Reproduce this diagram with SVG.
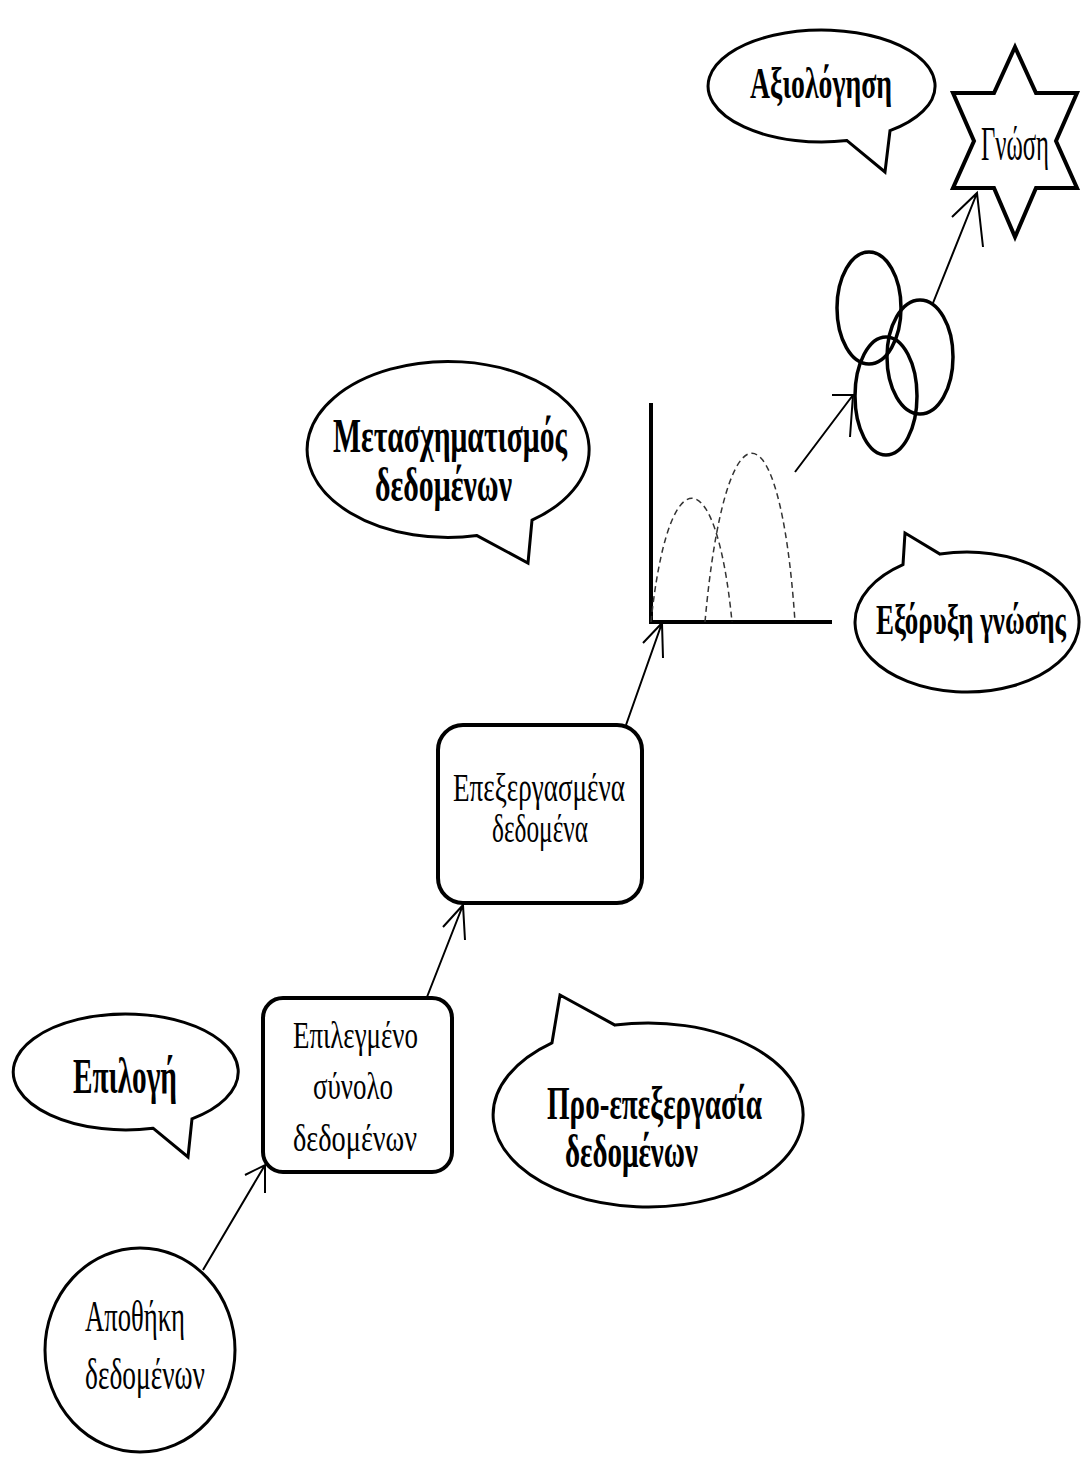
<svg xmlns="http://www.w3.org/2000/svg" width="1083" height="1461" viewBox="0 0 1083 1461">
  <style>
    .bg { fill: #ffffff; }
    .bubble { fill: #ffffff; stroke: #000; stroke-width: 3; stroke-linejoin: miter; }
    .box { fill: #ffffff; stroke: #000; stroke-width: 4; }
    .ring { fill: none; stroke: #000; stroke-width: 3.5; }
    .star { fill: #ffffff; stroke: #000; stroke-width: 4; stroke-linejoin: miter; }
    .axis { fill: none; stroke: #000; stroke-width: 4; }
    .curve { fill: none; stroke: #333; stroke-width: 1.5; stroke-dasharray: 6 4; }
    .conn { fill: none; stroke: #000; stroke-width: 2; }
    .t { font-family: "Liberation Serif", "Times New Roman", serif; fill: #000; }
    .b { font-weight: bold; }
  </style>
  <rect class="bg" x="0" y="0" width="1083" height="1461"/>

  <g id="node-axiologisi">
    <path class="bubble" d="M847,140.6 L885,172 L890,130.7 A113.5,56 0 1 0 847,140.6 Z"/>
    <text class="t b" x="750" y="98" font-size="45" textLength="142" lengthAdjust="spacingAndGlyphs">Αξιολόγηση</text>
  </g>

  <g id="node-gnosi">
    <polygon class="star" points="1015,47 1036,93 1077,93 1056,141 1077,188 1036,188 1015,237 994,188 953,188 974,141 953,93 994,93"/>
    <text class="t" x="981" y="160" font-size="48" textLength="68" lengthAdjust="spacingAndGlyphs">Γνώση</text>
  </g>

  <g id="node-patterns">
    <ellipse class="ring" cx="869" cy="308" rx="32" ry="56"/>
    <ellipse class="ring" cx="920" cy="357" rx="33" ry="57"/>
    <ellipse class="ring" cx="886" cy="396" rx="31" ry="59"/>
  </g>

  <g id="node-metasximatismos">
    <path class="bubble" d="M477,535.6 L528,563 L532,520.2 A141,88 0 1 0 477,535.6 Z"/>
    <text class="t b" x="333" y="452" font-size="48" textLength="234" lengthAdjust="spacingAndGlyphs">Μετασχηματισμός</text>
    <text class="t b" x="375" y="501" font-size="48" textLength="137" lengthAdjust="spacingAndGlyphs">δεδομένων</text>
  </g>

  <g id="node-chart">
    <path class="axis" d="M651,403 L651,622 L832,622"/>
    <path class="curve" d="M651,622 C668,457 716,457 732,622"/>
    <path class="curve" d="M705,622 C725,397 780,397 795,622"/>
  </g>

  <g id="node-exoryxi">
    <path class="bubble" d="M903,564.6 L905,533 L940,554.1 A112,70 0 1 1 903,564.6 Z"/>
    <text class="t b" x="876" y="634" font-size="42" textLength="190" lengthAdjust="spacingAndGlyphs">Εξόρυξη γνώσης</text>
  </g>

  <g id="node-epexergasmena">
    <rect class="box" x="438" y="725" width="204" height="178" rx="25" ry="25"/>
    <text class="t" x="453" y="801" font-size="40" textLength="172" lengthAdjust="spacingAndGlyphs">Επεξεργασμένα</text>
    <text class="t" x="492" y="842" font-size="40" textLength="96" lengthAdjust="spacingAndGlyphs">δεδομένα</text>
  </g>

  <g id="node-epilogi">
    <path class="bubble" d="M153,1128.2 L188,1157 L192,1118.8 A112.5,58 0 1 0 153,1128.2 Z"/>
    <text class="t b" x="73" y="1093" font-size="50" textLength="104" lengthAdjust="spacingAndGlyphs">Επιλογή</text>
  </g>

  <g id="node-epilegmeno">
    <rect class="box" x="263" y="998" width="189" height="174" rx="20" ry="20"/>
    <text class="t" x="293" y="1048" font-size="38" textLength="125" lengthAdjust="spacingAndGlyphs">Επιλεγμένο</text>
    <text class="t" x="313" y="1099" font-size="38" textLength="80" lengthAdjust="spacingAndGlyphs">σύνολο</text>
    <text class="t" x="293" y="1151" font-size="38" textLength="124" lengthAdjust="spacingAndGlyphs">δεδομένων</text>
  </g>

  <g id="node-proepexergasia">
    <path class="bubble" d="M552,1042.8 L560,995 L615,1025.1 A155,92 0 1 1 552,1042.8 Z"/>
    <text class="t b" x="547" y="1119" font-size="47" textLength="215" lengthAdjust="spacingAndGlyphs">Προ-επεξεργασία</text>
    <text class="t b" x="565" y="1167" font-size="47" textLength="133" lengthAdjust="spacingAndGlyphs">δεδομένων</text>
  </g>

  <g id="node-apothiki">
    <ellipse class="bubble" cx="140" cy="1350" rx="95" ry="102"/>
    <text class="t" x="85" y="1331" font-size="44" textLength="100" lengthAdjust="spacingAndGlyphs">Αποθήκη</text>
    <text class="t" x="85" y="1389" font-size="44" textLength="120" lengthAdjust="spacingAndGlyphs">δεδομένων</text>
  </g>

  <g id="connectors">
    <path class="conn" d="M203,1270 L265,1165 M245,1175 L265,1165 L265,1193"/>
    <path class="conn" d="M427,997 L463,905 M443,927 L463,905 L465,940"/>
    <path class="conn" d="M626,725 L662,623 M643,643 L662,623 L663,658"/>
    <path class="conn" d="M795,472 L853,395 M832,395 L853,395 L850,437"/>
    <path class="conn" d="M933,303 L977,193 M952,217 L977,193 L983,247"/>
  </g>
</svg>
